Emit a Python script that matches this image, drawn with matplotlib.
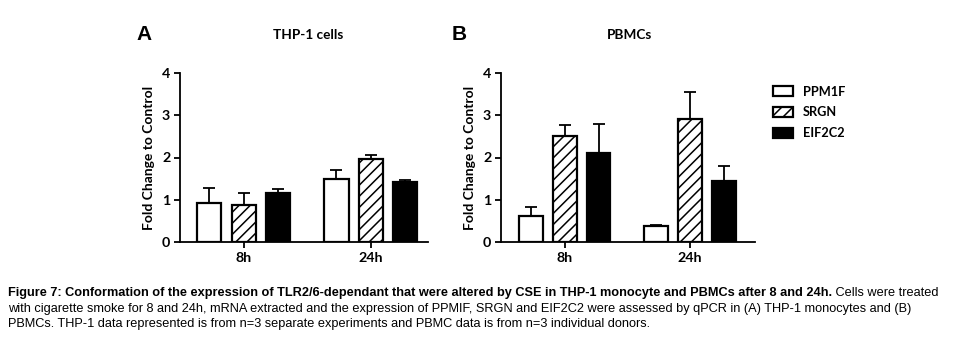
import matplotlib
matplotlib.use("Agg")
import matplotlib.pyplot as plt
import numpy as np

# data
timepoints = ["8h", "24h"]
genes = ["PPM1F", "SRGN", "EIF2C2"]

thp1_mean = {"PPM1F": [0.92, 1.48], "SRGN": [0.87, 1.97], "EIF2C2": [1.17, 1.42]}
thp1_err = {"PPM1F": [0.36, 0.22], "SRGN": [0.29, 0.08], "EIF2C2": [0.09, 0.04]}

pbmc_mean = {"PPM1F": [0.62, 0.37], "SRGN": [2.51, 2.90], "EIF2C2": [2.10, 1.44]}
pbmc_err = {"PPM1F": [0.22, 0.04], "SRGN": [0.27, 0.66], "EIF2C2": [0.69, 0.37]}

styles = {
    "PPM1F": dict(color="white", hatch=None),
    "SRGN": dict(color="white", hatch="///"),
    "EIF2C2": dict(color="black", hatch=None),
}

plt.rcParams["hatch.linewidth"] = 1.1
plt.rcParams["font.family"] = ["Lato", "DejaVu Sans"]

W, H = 955, 347
fig = plt.figure(figsize=(W / 100, H / 100), dpi=100)


def draw_panel(ax, means, errs, title, letter, letter_x, title_x):
    x = np.arange(len(timepoints))
    width = 0.19
    step = 0.27
    handles = []
    for i, g in enumerate(genes):
        pos = x + (i - 1) * step
        b = ax.bar(pos, means[g], width, facecolor=styles[g]["color"], edgecolor="black",
                   linewidth=1.6, hatch=styles[g]["hatch"], zorder=3, label=g)
        ax.errorbar(pos, means[g], yerr=[np.zeros(len(pos)), errs[g]], fmt="none",
                    ecolor="black", elinewidth=1.3, capsize=4.3, capthick=1.3, zorder=2)
        handles.append(b)
    ax.set_ylim(0, 4)
    ax.set_yticks([0, 1, 2, 3, 4])
    ax.set_xticks(x)
    ax.set_xticklabels(timepoints)
    for s in ["top", "right"]:
        ax.spines[s].set_visible(False)
    for s in ["left", "bottom"]:
        ax.spines[s].set_linewidth(1.3)
    ax.tick_params(axis="both", width=1.3, length=4, labelsize=10.3, pad=3)
    for lab in ax.get_xticklabels() + ax.get_yticklabels():
        lab.set_fontweight("bold")
    ax.set_ylabel("Fold Change to Control", fontsize=10, fontweight="bold", labelpad=5)
    fig.text(title_x / W, 1 - 35 / H, title, ha="center", va="center",
             fontsize=9.8, fontweight="bold")
    fig.text(letter_x / W, 1 - 35 / H, letter, ha="center", va="center",
             fontsize=15, fontweight="bold", family="Liberation Sans")
    return handles


ax_a = fig.add_axes([180 / W, 1 - 242 / H, 248 / W, 169 / H])
ax_a.set_xlim(-0.5, 1.45)
draw_panel(ax_a, thp1_mean, thp1_err, "THP-1 cells", "A", 144, 308)

ax_b = fig.add_axes([501 / W, 1 - 242 / H, 254 / W, 169 / H])
ax_b.set_xlim(-0.51, 1.52)
handles = draw_panel(ax_b, pbmc_mean, pbmc_err, "PBMCs", "B", 459, 629)

leg = fig.legend(handles=handles, labels=genes, loc="upper left",
                 bbox_to_anchor=(761 / W, 1 - 74 / H), frameon=False,
                 prop=dict(size=9.2, weight="bold"), handlelength=1.6,
                 handleheight=0.85, labelspacing=0.7, handletextpad=0.8)

# caption, sized so the first line spans the figure width
cap_font = "Liberation Sans"
bold_part = ("Figure 7: Conformation of the expression of TLR2/6-dependant that were altered "
             "by CSE in THP-1 monocyte and PBMCs after 8 and 24h.")
rest_1 = " Cells were treated"
line_2 = ("with cigarette smoke for 8 and 24h, mRNA extracted and the expression of PPMIF, "
          "SRGN and EIF2C2 were assessed by qPCR in (A) THP-1 monocytes and (B)")
line_3 = ("PBMCs. THP-1 data represented is from n=3 separate experiments and PBMC data "
          "is from n=3 individual donors.")

x0, x_end = 8, 944
renderer = fig.canvas.get_renderer()
probe_b = fig.text(0, 0, bold_part, fontsize=10, fontweight="bold", family=cap_font)
probe_r = fig.text(0, 0, rest_1, fontsize=10, family=cap_font)
w10 = (probe_b.get_window_extent(renderer).width + probe_r.get_window_extent(renderer).width)
probe_b.remove()
probe_r.remove()
cap_size = 10 * (x_end - x0) / w10

t1 = fig.text(x0 / W, 1 - 293 / H, bold_part, ha="left", va="center", fontsize=cap_size,
              fontweight="bold", family=cap_font)
bb = t1.get_window_extent(renderer)
fig.text(bb.x1 / W, 1 - 293 / H, rest_1, ha="left", va="center", fontsize=cap_size,
         family=cap_font)
fig.text(x0 / W, 1 - 309 / H, line_2, ha="left", va="center", fontsize=cap_size, family=cap_font)
fig.text(x0 / W, 1 - 324 / H, line_3, ha="left", va="center", fontsize=cap_size, family=cap_font)

fig.savefig("out.png", dpi=100)
